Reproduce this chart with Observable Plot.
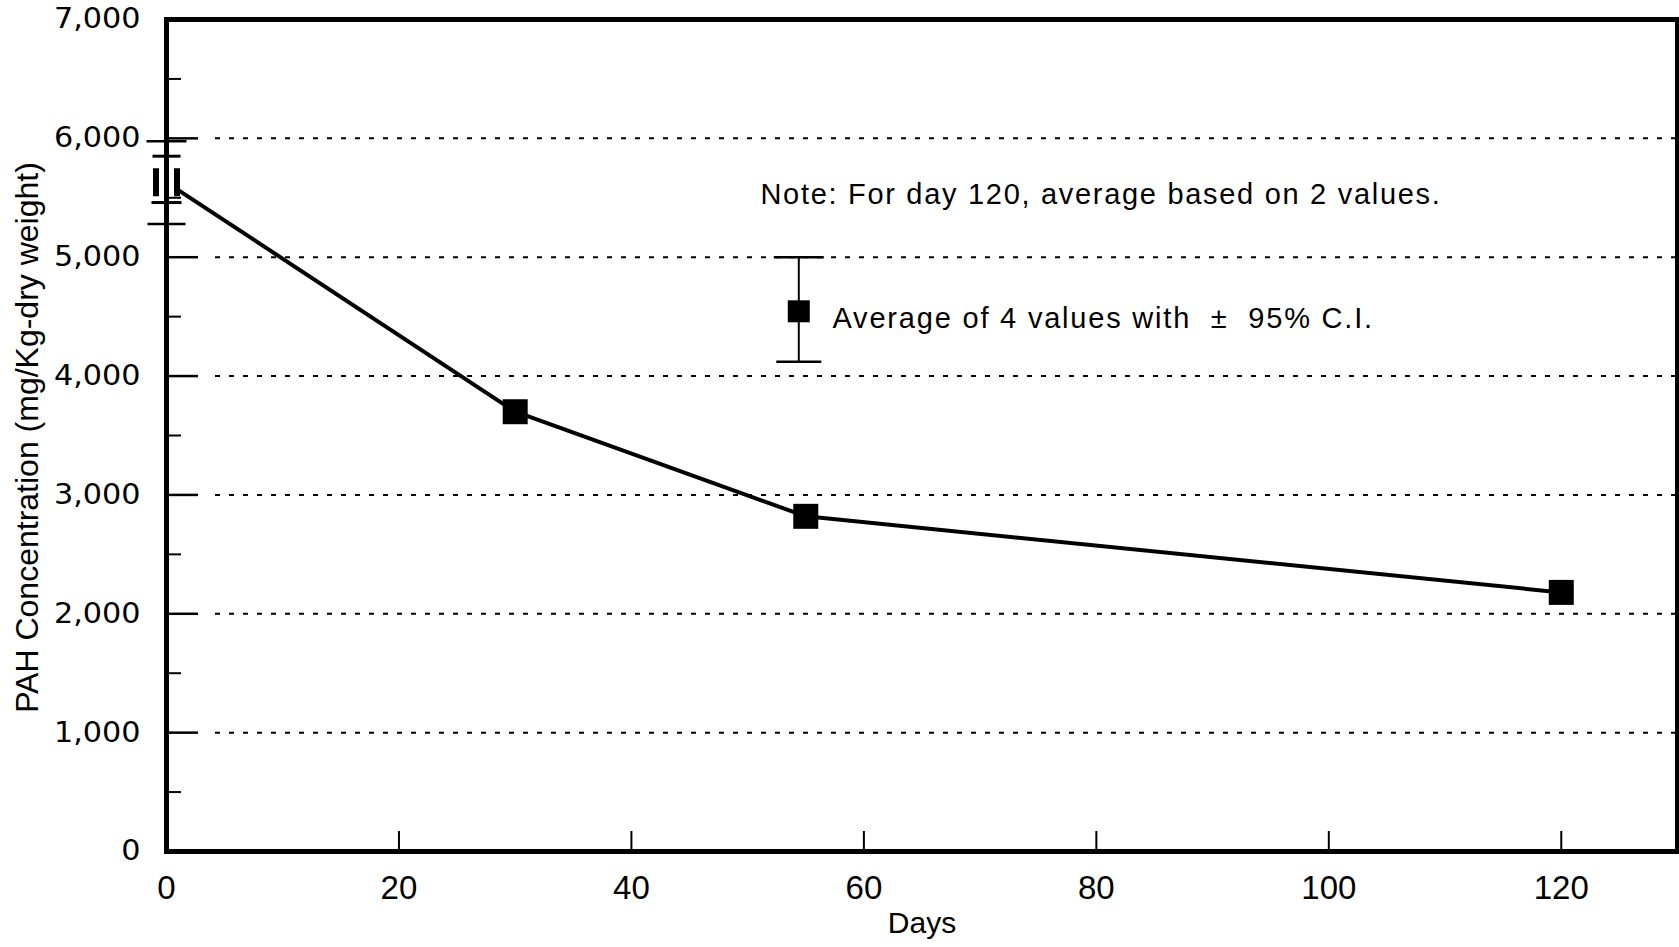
<!DOCTYPE html>
<html>
<head>
<meta charset="utf-8">
<script src="https://cdn.jsdelivr.net/npm/d3@7"></script>
<script src="https://cdn.jsdelivr.net/npm/@observablehq/plot@0.6"></script>
<style>
  html, body { margin: 0; padding: 0; background: white; }
  #chart svg { display: block; }
</style>
</head>
<body>
<div id="chart"></div>
<script>
// ---- data ----
const days = [0, 30, 55, 120];
const pah = [5630, 3700, 2820, 2180];

// day 0 confidence interval (outer and inner caps)
const ciDays = [0];
const ciOuterLow = [5280];
const ciOuterHigh = [5975];
const ciInnerLow = [5460];
const ciInnerHigh = [5850];

// legend sample (in data coordinates)
const legendDay = [54.4];
const legendMean = [4545];
const legendLow = [4120];
const legendHigh = [5000];

const gridValues = [1000, 2000, 3000, 4000, 5000, 6000];
const yMajorTicks = [0, 1000, 2000, 3000, 4000, 5000, 6000, 7000];
const yMinorTicks = [500, 1500, 2500, 3500, 4500, 5500, 6500];
const xTickValues = [20, 40, 60, 80, 100, 120];
const xLabelValues = [0, 20, 40, 60, 80, 100, 120];

const noteText = ["Note: For day 120, average based on 2 values."];
const noteDay = [51.1];
const noteValue = [5530];
const legendText = ["Average of 4 values with  \u00B1  95% C.I."];
const legendTextDay = [57.3];
const legendTextValue = [4480];

const xTitle = "Days";
const yTitle = "PAH Concentration (mg/Kg-dry weight)";

// ---- build ----
const points = days.map((d, i) => ({day: d, value: pah[i]}));
const ciOuter = ciDays.map((d, i) => ({day: d, lo: ciOuterLow[i], hi: ciOuterHigh[i]}));
const ciInner = ciDays.map((d, i) => ({day: d, lo: ciInnerLow[i], hi: ciInnerHigh[i]}));
const legend = legendDay.map((d, i) => ({day: d, mean: legendMean[i], lo: legendLow[i], hi: legendHigh[i]}));

const width = 1679, height = 947;
const marginLeft = 166, marginRight = 2, marginTop = 19, marginBottom = 96;
const plotW = width - marginLeft - marginRight;
const plotH = height - marginTop - marginBottom;

// horizontal cap symbol
const capSymbol = {
  draw(ctx, size) {
    const w = Math.sqrt(size) / 2;
    ctx.moveTo(-w, 0); ctx.lineTo(w, 0);
  }
};
// two vertical bars (day-0 marker)
const barsSymbol = {
  draw(ctx, size) {
    const h = Math.sqrt(size) / 2;
    const w = h * 0.75;
    ctx.moveTo(-w, -h); ctx.lineTo(-w, h);
    ctx.moveTo(w, -h); ctx.lineTo(w, h);
  }
};
const capR = (px) => px / Math.sqrt(Math.PI);

const first = points.filter(p => p.day === 0);
const rest = points.filter(p => p.day !== 0);

const chart = Plot.plot({
  width, height, marginLeft, marginRight, marginTop, marginBottom,
  x: {domain: [0, 130]},
  y: {domain: [0, 7000]},
  style: {fontFamily: "'Liberation Sans', Arial, sans-serif", fontSize: "28px", background: "white", color: "black"},
  marks: [
    Plot.ruleY(gridValues, {y: d => d, stroke: "black", strokeWidth: 2, strokeDasharray: "5,9", insetLeft: 49}),
    Plot.tickY(yMajorTicks, {y: d => d, stroke: "black", strokeWidth: 2.5, insetRight: plotW - 32}),
    Plot.tickY(yMinorTicks, {y: d => d, stroke: "black", strokeWidth: 2, insetRight: plotW - 15}),
    Plot.tickX(xTickValues, {x: d => d, stroke: "black", strokeWidth: 2, insetTop: plotH - 20}),
    Plot.line(points, {x: "day", y: "value", stroke: "black", strokeWidth: 4}),
    // day 0 error bars
    Plot.ruleX(ciOuter, {x: "day", y1: "lo", y2: "hi", stroke: "black", strokeWidth: 2}),
    Plot.dot(ciOuter, {x: "day", y: "hi", symbol: capSymbol, r: capR(40), stroke: "black", strokeWidth: 2.5}),
    Plot.dot(ciOuter, {x: "day", y: "lo", symbol: capSymbol, r: capR(38), stroke: "black", strokeWidth: 2.5}),
    Plot.dot(ciInner, {x: "day", y: "hi", symbol: capSymbol, r: capR(28), stroke: "black", strokeWidth: 3}),
    Plot.dot(ciInner, {x: "day", y: "lo", symbol: capSymbol, r: capR(30), stroke: "black", strokeWidth: 3}),
    Plot.dot(first, {x: "day", y: "value", symbol: "square", r: capR(24), fill: "white"}),
    Plot.dot(first, {x: "day", y: "value", symbol: barsSymbol, r: capR(28), stroke: "black", strokeWidth: 6}),
    Plot.dot(rest, {x: "day", y: "value", symbol: "square", r: capR(25), fill: "black"}),
    // legend sample
    Plot.ruleX(legend, {x: "day", y1: "lo", y2: "hi", stroke: "black", strokeWidth: 2}),
    Plot.dot(legend, {x: "day", y: "hi", symbol: capSymbol, r: capR(50), stroke: "black", strokeWidth: 2.5}),
    Plot.dot(legend, {x: "day", y: "lo", symbol: capSymbol, r: capR(45), stroke: "black", strokeWidth: 2.5}),
    Plot.dot(legend, {x: "day", y: "mean", symbol: "square", r: capR(22), fill: "black"}),
    Plot.text(legendText, {x: legendTextDay, y: legendTextValue, text: d => d, textAnchor: "start", fontSize: 29, fill: "black"}),
    Plot.text(noteText, {x: noteDay, y: noteValue, text: d => d, textAnchor: "start", fontSize: 29, fill: "black"}),
    Plot.frame({stroke: "black", strokeWidth: 5}),
    Plot.axisY(yMajorTicks, {tickSize: 0, tickPadding: 26, tickFormat: d3.format(","), fontFamily: "'DejaVu Sans', sans-serif", fontSize: 28, label: null}),
    Plot.axisX(xLabelValues, {tickSize: 0, tickPadding: 24, fontSize: 33, label: null}),
    Plot.text([xTitle], {frameAnchor: "bottom", text: d => d, dy: 81, fontSize: 30, fill: "black"}),
    Plot.text([yTitle], {frameAnchor: "left", textAnchor: "middle", text: d => d, rotate: -90, dx: -139, dy: 2, fontSize: 32, fill: "black"})
  ]
});

document.getElementById("chart").appendChild(chart);

// widen the y tick labels (extended face in the original)
d3.select(chart).selectAll("g[aria-label='y-axis tick label'] text").each(function() {
  const t = this.getAttribute("transform") || "";
  this.setAttribute("transform", t + " scale(1.08,1)");
});
// letter spacing for the annotation texts
d3.select(chart).selectAll("g[aria-label='text'] text").each(function() {
  const s = this.textContent;
  if (s.startsWith("Note")) this.style.letterSpacing = "1.7px";
  if (s.startsWith("Average")) this.style.letterSpacing = "1.8px";
});
</script>
</body>
</html>
